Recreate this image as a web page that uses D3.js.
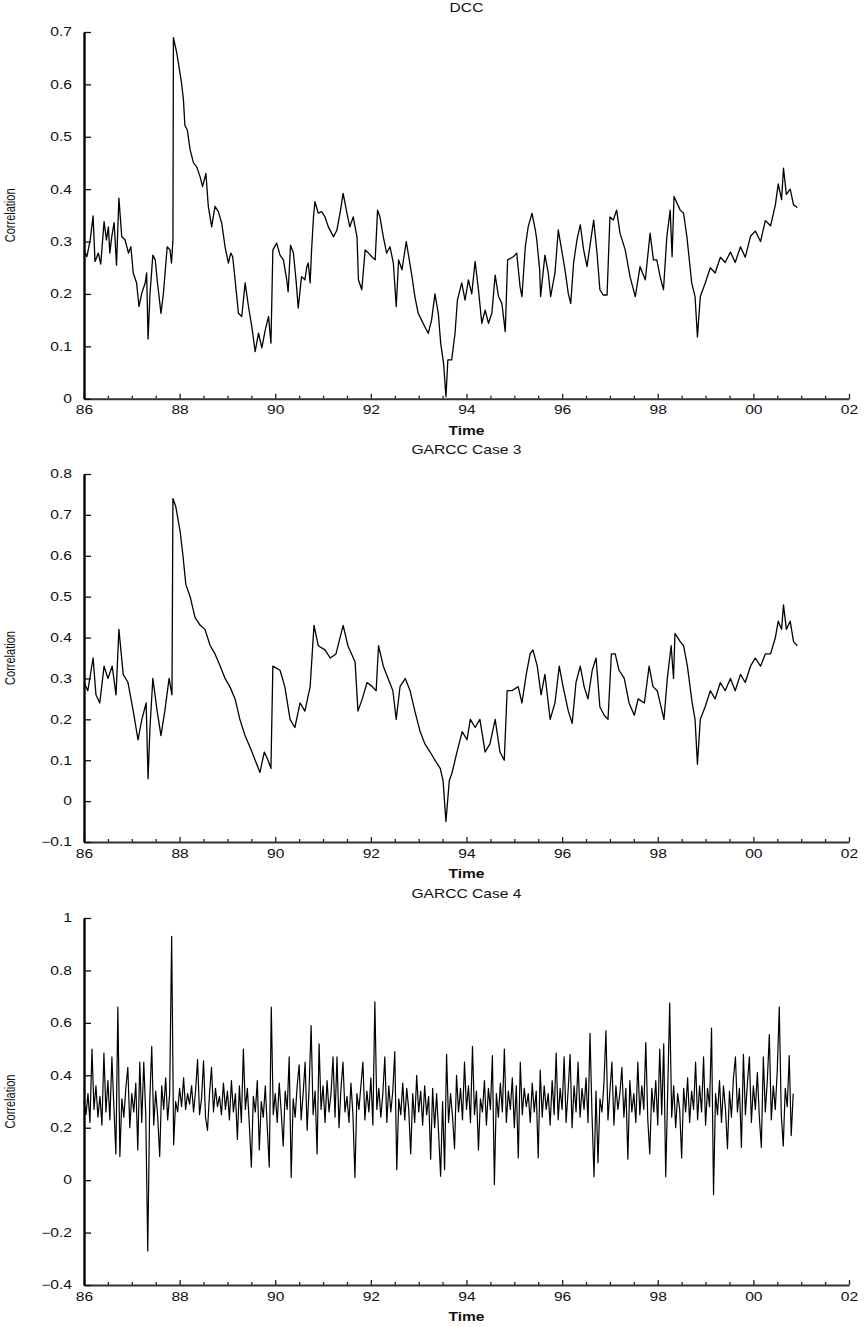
<!DOCTYPE html>
<html>
<head>
<meta charset="utf-8">
<script src="https://cdn.jsdelivr.net/npm/d3@7"></script>
<style>
  body { margin: 0; background: #fff; }
  text { font-family: "Liberation Sans", Arial, sans-serif; fill: #111; }
</style>
</head>
<body>
<svg id="chart" width="865" height="1327"></svg>
<script>
// DCC correlation (years since 1900)
const dccYears = [86.00,86.06,86.13,86.19,86.23,86.30,86.35,86.42,86.47,86.51,86.54,86.58,86.63,86.68,86.73,86.79,86.86,86.93,86.98,87.03,
  87.10,87.15,87.21,87.28,87.31,87.34,87.38,87.44,87.49,87.53,87.61,87.66,87.74,87.80,87.83,87.86,87.87,87.94,88.04,88.08,
  88.11,88.16,88.22,88.29,88.36,88.43,88.48,88.55,88.60,88.67,88.74,88.81,88.88,88.91,88.95,89.02,89.07,89.11,89.16,89.23,
  89.30,89.37,89.44,89.51,89.58,89.65,89.72,89.79,89.86,89.91,89.95,90.03,90.10,90.17,90.24,90.27,90.32,90.38,90.44,90.48,
  90.55,90.62,90.66,90.69,90.73,90.76,90.80,90.83,90.90,90.97,91.04,91.11,91.22,91.29,91.36,91.42,91.50,91.56,91.63,91.71,
  91.74,91.81,91.88,91.95,92.02,92.09,92.14,92.19,92.26,92.33,92.40,92.47,92.53,92.58,92.65,92.74,92.78,92.86,92.92,92.99,
  93.06,93.13,93.20,93.27,93.34,93.41,93.46,93.52,93.57,93.61,93.69,93.76,93.81,93.90,93.97,94.04,94.11,94.18,94.25,94.32,
  94.39,94.46,94.53,94.60,94.67,94.74,94.81,94.86,94.98,95.05,95.12,95.16,95.23,95.29,95.37,95.44,95.47,95.53,95.55,95.64,
  95.71,95.76,95.85,95.92,95.99,96.06,96.13,96.18,96.24,96.31,96.38,96.45,96.52,96.59,96.66,96.73,96.79,96.86,96.94,97.00,
  97.07,97.14,97.21,97.32,97.42,97.53,97.63,97.74,97.84,97.91,97.98,98.05,98.12,98.19,98.26,98.30,98.34,98.47,98.54,98.61,
  98.71,98.78,98.83,98.89,98.99,99.10,99.20,99.31,99.41,99.52,99.62,99.73,99.83,99.94,100.04,100.15,100.25,100.36,100.46,100.52,
  100.59,100.63,100.69,100.77,100.84,100.92];
const dccValues = [0.284,0.271,0.303,0.349,0.262,0.278,0.257,0.338,0.303,0.328,0.278,0.309,0.336,0.255,0.383,0.309,0.303,0.278,0.29,0.24,
  0.221,0.176,0.202,0.221,0.24,0.114,0.2,0.274,0.265,0.227,0.163,0.2,0.29,0.284,0.259,0.303,0.689,0.66,0.603,0.57,
  0.522,0.513,0.475,0.45,0.442,0.423,0.405,0.43,0.367,0.328,0.367,0.357,0.335,0.316,0.29,0.259,0.278,0.271,0.227,0.163,
  0.157,0.221,0.176,0.137,0.09,0.125,0.097,0.131,0.157,0.106,0.284,0.297,0.274,0.265,0.227,0.204,0.293,0.278,0.221,0.173,
  0.233,0.227,0.252,0.259,0.221,0.284,0.347,0.376,0.354,0.357,0.347,0.328,0.309,0.322,0.357,0.392,0.354,0.328,0.347,0.309,
  0.227,0.208,0.284,0.278,0.271,0.265,0.36,0.347,0.309,0.278,0.29,0.259,0.176,0.265,0.246,0.3,0.278,0.233,0.195,0.163,
  0.15,0.137,0.125,0.15,0.2,0.163,0.106,0.068,0.004,0.074,0.074,0.125,0.188,0.221,0.188,0.227,0.2,0.262,0.208,0.144,
  0.169,0.144,0.163,0.236,0.195,0.182,0.128,0.265,0.271,0.278,0.214,0.195,0.29,0.328,0.354,0.322,0.303,0.246,0.195,0.274,
  0.24,0.195,0.24,0.322,0.284,0.246,0.2,0.182,0.259,0.303,0.332,0.284,0.252,0.297,0.341,0.278,0.208,0.198,0.198,0.347,
  0.341,0.36,0.316,0.284,0.233,0.195,0.252,0.227,0.316,0.265,0.265,0.233,0.208,0.309,0.36,0.271,0.386,0.36,0.354,0.309,
  0.221,0.195,0.118,0.195,0.22,0.25,0.24,0.27,0.26,0.28,0.26,0.29,0.27,0.31,0.32,0.30,0.34,0.33,0.37,0.41,
  0.38,0.44,0.39,0.40,0.37,0.365];

// GARCC case 3
const case3Years = [86.00,86.08,86.19,86.25,86.33,86.42,86.50,86.59,86.67,86.73,86.82,86.92,87.03,87.13,87.21,87.30,87.34,87.38,87.44,87.53,
  87.61,87.69,87.78,87.84,87.86,87.92,88.01,88.07,88.13,88.22,88.32,88.43,88.53,88.64,88.74,88.85,88.95,89.05,89.16,89.26,
  89.37,89.48,89.58,89.68,89.77,89.85,89.91,89.95,90.10,90.20,90.31,90.41,90.52,90.62,90.73,90.81,90.90,91.04,91.15,91.27,
  91.42,91.52,91.67,91.73,91.82,91.92,92.03,92.11,92.16,92.26,92.36,92.46,92.53,92.61,92.72,92.82,92.92,93.03,93.13,93.24,
  93.34,93.45,93.51,93.57,93.64,93.70,93.80,93.91,94.01,94.08,94.18,94.28,94.39,94.49,94.60,94.70,94.79,94.85,94.95,95.08,
  95.16,95.25,95.33,95.39,95.48,95.56,95.64,95.75,95.85,95.94,96.02,96.13,96.21,96.29,96.38,96.46,96.54,96.63,96.71,96.79,
  96.88,96.96,97.03,97.11,97.19,97.30,97.40,97.51,97.59,97.72,97.82,97.90,97.99,98.07,98.13,98.20,98.28,98.33,98.36,98.47,
  98.54,98.62,98.72,98.78,98.83,98.89,98.99,99.10,99.20,99.31,99.41,99.52,99.62,99.73,99.83,99.94,100.04,100.15,100.25,100.36,
  100.46,100.52,100.59,100.63,100.69,100.77,100.84,100.92];
const case3Values = [0.29,0.27,0.35,0.26,0.24,0.33,0.30,0.33,0.26,0.42,0.31,0.29,0.22,0.15,0.20,0.24,0.055,0.18,0.30,0.22,
  0.16,0.22,0.30,0.26,0.74,0.72,0.66,0.60,0.53,0.50,0.45,0.43,0.42,0.38,0.36,0.33,0.30,0.28,0.25,0.20,
  0.16,0.13,0.10,0.07,0.12,0.10,0.08,0.33,0.32,0.28,0.20,0.18,0.24,0.22,0.28,0.43,0.38,0.37,0.35,0.36,
  0.43,0.38,0.34,0.22,0.25,0.29,0.28,0.27,0.38,0.33,0.30,0.27,0.20,0.28,0.30,0.27,0.22,0.17,0.14,0.12,
  0.10,0.08,0.05,-0.05,0.05,0.07,0.12,0.17,0.15,0.20,0.18,0.20,0.12,0.14,0.20,0.12,0.10,0.27,0.27,0.28,
  0.24,0.31,0.36,0.37,0.33,0.26,0.31,0.20,0.24,0.33,0.28,0.22,0.19,0.29,0.33,0.28,0.25,0.32,0.35,0.23,
  0.21,0.20,0.36,0.36,0.32,0.30,0.24,0.21,0.25,0.24,0.33,0.28,0.27,0.23,0.20,0.30,0.38,0.30,0.41,0.39,
  0.38,0.33,0.24,0.20,0.09,0.20,0.23,0.27,0.25,0.29,0.27,0.30,0.27,0.31,0.29,0.33,0.35,0.33,0.36,0.36,
  0.40,0.44,0.42,0.48,0.42,0.44,0.39,0.38];

// GARCC case 4, sampled twice a month from Jan 1986
const case4Start = 86;
const case4Step = 1 / 24;
const case4Values = [
  0.30,0.25,0.33,0.22,0.50,0.27,0.36,0.24,0.32,0.21,
  0.485,0.26,0.38,0.23,0.47,0.28,0.10,0.66,0.09,0.31,
  0.24,0.35,0.43,0.20,0.33,0.26,0.37,0.115,0.45,0.22,
  0.45,0.25,-0.27,0.30,0.51,0.21,0.34,0.24,0.09,0.36,
  0.27,0.39,0.23,0.33,0.93,0.135,0.30,0.26,0.35,0.28,
  0.39,0.27,0.33,0.29,0.36,0.26,0.34,0.46,0.25,0.31,
  0.455,0.24,0.19,0.33,0.43,0.26,0.35,0.28,0.32,0.25,
  0.37,0.27,0.34,0.23,0.38,0.26,0.33,0.155,0.36,0.22,
  0.50,0.27,0.35,0.21,0.05,0.32,0.26,0.38,0.115,0.30,
  0.24,0.36,0.20,0.05,0.66,0.25,0.33,0.22,0.37,0.26,
  0.13,0.34,0.27,0.47,0.01,0.31,0.24,0.36,0.44,0.23,
  0.33,0.45,0.19,0.35,0.59,0.25,0.34,0.10,0.52,0.27,
  0.36,0.22,0.38,0.26,0.33,0.47,0.24,0.47,0.20,0.35,
  0.45,0.26,0.32,0.22,0.37,0.25,0.01,0.33,0.27,0.36,
  0.45,0.23,0.34,0.26,0.39,0.21,0.68,0.27,0.35,0.24,
  0.33,0.47,0.22,0.36,0.26,0.34,0.49,0.04,0.31,0.25,
  0.37,0.23,0.35,0.27,0.10,0.33,0.22,0.40,0.26,0.34,
  0.21,0.36,0.25,0.32,0.08,0.35,0.20,0.33,0.18,0.015,
  0.30,0.04,0.48,0.22,0.33,0.24,0.12,0.40,0.26,0.35,
  0.23,0.45,0.27,0.36,0.22,0.51,0.25,0.34,0.115,0.31,
  0.26,0.38,0.21,0.35,0.27,0.475,-0.017,0.33,0.24,0.37,
  0.26,0.50,0.22,0.34,0.27,0.39,0.20,0.36,0.085,0.45,
  0.25,0.35,0.28,0.33,0.22,0.37,0.26,0.34,0.085,0.42,
  0.24,0.36,0.27,0.33,0.21,0.38,0.25,0.485,0.23,0.35,
  0.27,0.47,0.22,0.34,0.48,0.20,0.36,0.26,0.45,0.24,
  0.35,0.27,0.39,0.22,0.56,0.25,0.013,0.34,0.066,0.31,
  0.26,0.37,0.57,0.23,0.34,0.45,0.21,0.36,0.27,0.33,
  0.43,0.24,0.35,0.08,0.38,0.26,0.33,0.22,0.45,0.25,
  0.36,0.27,0.525,0.23,0.10,0.35,0.26,0.38,0.21,0.50,
  0.25,0.52,0.013,0.34,0.675,0.24,0.36,0.20,0.33,0.27,
  0.085,0.35,0.26,0.39,0.22,0.34,0.27,0.45,0.23,0.36,
  0.26,0.47,0.21,0.35,0.28,0.58,-0.055,0.33,0.25,0.38,
  0.22,0.36,0.27,0.12,0.34,0.24,0.39,0.47,0.26,0.35,
  0.125,0.48,0.25,0.37,0.47,0.22,0.36,0.27,0.41,0.24,
  0.125,0.47,0.26,0.38,0.555,0.23,0.36,0.27,0.42,0.66,
  0.25,0.13,0.35,0.28,0.475,0.17,0.33];
const case4Years = case4Values.map((v, i) => case4Start + i * case4Step);

const panelTitles = ['DCC', 'GARCC Case 3', 'GARCC Case 4'];
const dccTicks = [0, 0.1, 0.2, 0.3, 0.4, 0.5, 0.6, 0.7];
const case3Ticks = [-0.1, 0, 0.1, 0.2, 0.3, 0.4, 0.5, 0.6, 0.7, 0.8];
const case4Ticks = [-0.4, -0.2, 0, 0.2, 0.4, 0.6, 0.8, 1];
const yearTicks = [86, 88, 90, 92, 94, 96, 98, 100, 102];
const halfYearTicks = d3.range(86.5, 102, 0.5).filter(d => d % 2 !== 0);

const left = 84, right = 849;
const sx = 1.3; // the source picture is stretched sideways

const panels = [
  { title: panelTitles[0], years: dccYears, values: dccValues, domain: [0, 0.7], ticks: dccTicks, top: 32, bottom: 398.7, sw: 1.3 },
  { title: panelTitles[1], years: case3Years, values: case3Values, domain: [-0.1, 0.8], ticks: case3Ticks, top: 474, bottom: 842, sw: 1.3 },
  { title: panelTitles[2], years: case4Years, values: case4Values, domain: [-0.4, 1], ticks: case4Ticks, top: 918, bottom: 1285, sw: 1.2 }
];

const svg = d3.select('#chart');
const x = d3.scaleLinear().domain([86, 102]).range([left, right]);
const fmtY = d3.format('~g');
const fmtX = d => String(d % 100).padStart(2, '0');

panels.forEach(function (p) {
  const y = d3.scaleLinear().domain(p.domain).range([p.bottom, p.top]);
  const g = svg.append('g');

  // series
  const data = p.years.map((t, i) => [t, p.values[i]]);
  g.append('path')
    .datum(data)
    .attr('fill', 'none')
    .attr('stroke', '#000')
    .attr('stroke-width', p.sw)
    .attr('stroke-linejoin', 'round')
    .attr('d', d3.line().x(d => x(d[0])).y(d => y(d[1])));

  // minor x ticks
  g.append('g')
    .attr('transform', 'translate(0,' + p.bottom + ')')
    .call(d3.axisBottom(x).tickValues(halfYearTicks).tickSize(-3).tickSizeOuter(0).tickFormat(''))
    .call(a => a.select('.domain').remove())
    .call(a => a.selectAll('line').attr('stroke', '#222').attr('stroke-width', 1.3));

  // major x axis
  const xa = g.append('g')
    .attr('transform', 'translate(0,' + p.bottom + ')')
    .call(d3.axisBottom(x).tickValues(yearTicks).tickSize(-5).tickSizeOuter(0).tickPadding(7).tickFormat(fmtX));
  xa.select('.domain').attr('stroke', '#333').attr('stroke-width', 2);
  xa.selectAll('line').attr('stroke', '#222').attr('stroke-width', 1.3);
  xa.selectAll('text')
    .attr('font-size', 12)
    .attr('transform', 'scale(' + sx + ',1)')
    .attr('fill', '#111');

  // y axis
  const ya = g.append('g')
    .attr('transform', 'translate(' + left + ',0)')
    .call(d3.axisLeft(y).tickValues(p.ticks).tickSize(-7).tickSizeOuter(0).tickPadding(12).tickFormat(fmtY));
  ya.select('.domain').attr('stroke', '#000').attr('stroke-width', 2.4);
  ya.selectAll('line').attr('stroke', '#111').attr('stroke-width', 1.3);
  ya.selectAll('text')
    .attr('font-size', 12)
    .attr('x', -12 / sx)
    .attr('transform', 'scale(' + sx + ',1)')
    .attr('fill', '#111');

  // title
  g.append('text')
    .attr('transform', 'translate(' + ((left + right) / 2) + ',' + (p.top - 20) + ') scale(' + sx + ',1)')
    .attr('text-anchor', 'middle')
    .attr('font-size', 12)
    .text(p.title);

  // x label
  g.append('text')
    .attr('transform', 'translate(' + ((left + right) / 2) + ',' + (p.bottom + 36) + ') scale(' + sx + ',1)')
    .attr('text-anchor', 'middle')
    .attr('font-size', 12)
    .attr('font-weight', 'bold')
    .text('Time');

  // y label
  g.append('text')
    .attr('transform', 'translate(15,' + ((p.top + p.bottom) / 2) + ') rotate(-90) scale(1,' + sx + ')')
    .attr('text-anchor', 'middle')
    .attr('font-size', 11)
    .text('Correlation');
});
</script>
</body>
</html>
